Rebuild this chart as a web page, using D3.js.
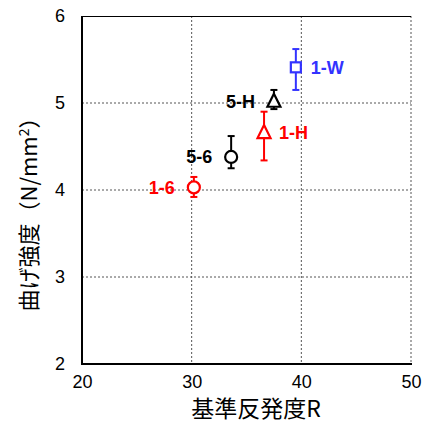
<!DOCTYPE html>
<html><head><meta charset="utf-8">
<script src="https://cdn.jsdelivr.net/npm/d3@7"></script>
<style>body{margin:0;background:#fff}</style>
</head><body>
<svg id="c" width="433" height="425"></svg>
<script>
const names = ["1-6","5-6","1-H","5-H","1-W"];
const xVals = [30.2, 33.6, 36.6, 37.5, 39.5];
const yVals = [4.03, 4.38, 4.66, 5.02, 5.41];
const errHi = [4.15, 4.62, 4.90, 5.15, 5.62];
const errLo = [3.92, 4.25, 4.34, 4.93, 5.15];
const shapes = ["circle","circle","triangle","triangle","square"];
const colors = ["#ff0000","#000000","#ff0000","#000000","#3333ff"];
const labelSide = ["left","left","right","left","right"];
const xTicks = [20,30,40,50];
const yTicks = [2,3,4,5,6];

const FONT = "'Liberation Sans', Arial, sans-serif";
const CJK = "'Noto Sans CJK JP', sans-serif";
const svg = d3.select("#c");
const L=82,R=411,T=16,B=364;
const x = d3.scaleLinear().domain([20,50]).range([L,R]);
const y = d3.scaleLinear().domain([2,6]).range([B,T]);

// grid
const g = svg.append("g");
[30,40,50].forEach(v=>g.append("line").attr("x1",x(v)).attr("x2",x(v)).attr("y1",T).attr("y2",B)
  .attr("stroke","#555").attr("stroke-width",1).attr("stroke-dasharray","2,2"));
[3,4,5].forEach(v=>g.append("line").attr("y1",y(v)).attr("y2",y(v)).attr("x1",L).attr("x2",R)
  .attr("stroke","#555").attr("stroke-width",1).attr("stroke-dasharray","2,2"));
// frame
svg.append("line").attr("x1",L).attr("x2",R).attr("y1",T+0.5).attr("y2",T+0.5).attr("stroke","#000").attr("stroke-width",1);
svg.append("line").attr("x1",L).attr("x2",L).attr("y1",T).attr("y2",B+1).attr("stroke","#000").attr("stroke-width",2);
svg.append("line").attr("x1",L-1).attr("x2",R+1).attr("y1",B).attr("y2",B).attr("stroke","#000").attr("stroke-width",2);

// tick labels via axes
const xa = svg.append("g").attr("transform",`translate(0,${B})`)
  .call(d3.axisBottom(x).tickValues(xTicks).tickFormat(d3.format("d")).tickSize(0).tickPadding(11));
xa.select(".domain").remove();
xa.attr("font-family",null).attr("font-size",null);
xa.selectAll("text").style("font-family",FONT).style("font-size","18px").attr("fill","#000");
const ya = svg.append("g").attr("transform",`translate(${L},0)`)
  .call(d3.axisLeft(y).tickValues(yTicks).tickFormat(d3.format("d")).tickSize(0).tickPadding(17));
ya.select(".domain").remove();
ya.attr("font-family",null).attr("font-size",null);
ya.selectAll("text").style("font-family",FONT).style("font-size","18px").attr("fill","#000");

// titles
svg.append("text").attr("x",256).attr("y",417).attr("text-anchor","middle")
  .style("font-family",CJK).style("font-size","23px").text("基準反発度R");
svg.append("text").attr("transform","translate(37,209) rotate(-90)").attr("text-anchor","middle")
  .style("font-family",CJK).style("font-size","22px")
  .html('曲げ強度（N/mm<tspan dy="-8" font-size="14">2</tspan><tspan dy="8">）</tspan>');

// points
names.forEach((n,i)=>{
  const cx=x(xVals[i]), cy=y(yVals[i]), c=colors[i];
  const pg=svg.append("g");
  pg.append("line").attr("x1",cx).attr("x2",cx).attr("y1",y(errHi[i])).attr("y2",y(errLo[i])).attr("stroke",c).attr("stroke-width",2);
  [errHi[i],errLo[i]].forEach(v=>pg.append("line").attr("x1",cx-3.5).attr("x2",cx+3.5).attr("y1",y(v)).attr("y2",y(v)).attr("stroke",c).attr("stroke-width",2));
  if(shapes[i]==="circle"){
    pg.append("circle").attr("cx",cx).attr("cy",cy).attr("r",6).attr("fill","#fff").attr("stroke",c).attr("stroke-width",2.2);
  } else if(shapes[i]==="square"){
    pg.append("rect").attr("x",cx-5).attr("y",cy-5).attr("width",10).attr("height",10).attr("fill","#fff").attr("stroke",c).attr("stroke-width",2.2);
  } else {
    const s=6.5;
    pg.append("path").attr("d",`M${cx},${cy-s-1}L${cx+s},${cy+s-1}L${cx-s},${cy+s-1}Z`).attr("fill","#fff").attr("stroke",c).attr("stroke-width",2.2);
  }
  const lx = labelSide[i]==="left" ? cx-19 : cx+15;
  svg.append("text").attr("x",lx).attr("y",cy).attr("dy","0.36em")
    .attr("text-anchor",labelSide[i]==="left"?"end":"start")
    .style("font-family",FONT).style("font-weight","bold").style("font-size","18px")
    .attr("fill",c).text(n);
});
</script>
</body></html>
